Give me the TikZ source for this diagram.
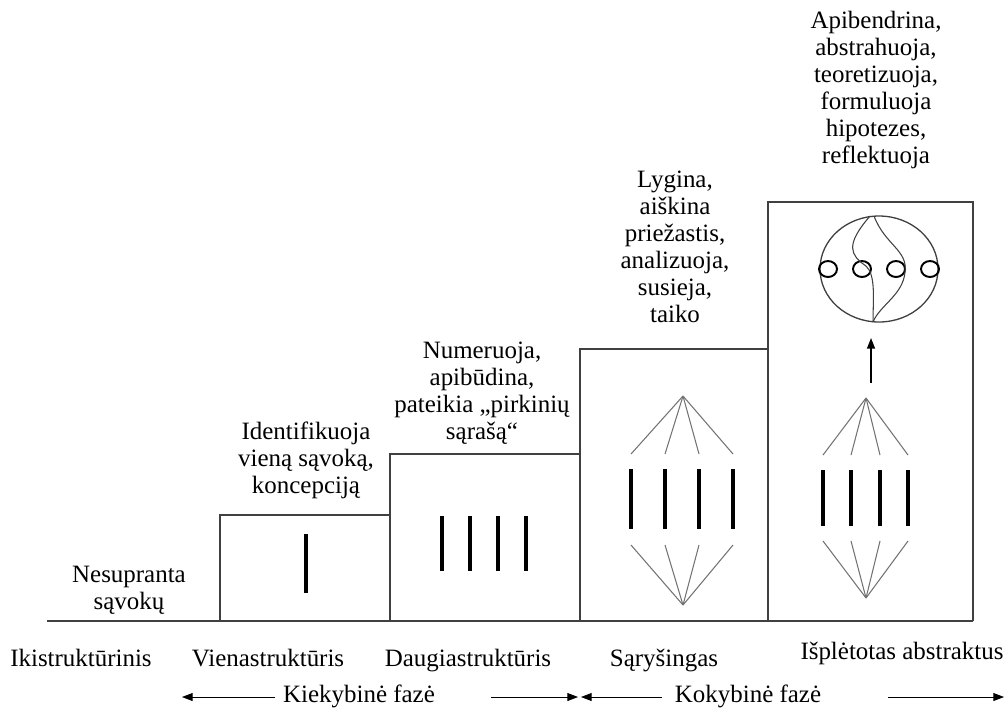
\documentclass[tikz,border=0pt]{standalone}
\usepackage{fontspec}
\setmainfont{Liberation Serif}
\usetikzlibrary{arrows.meta}

\tikzset{
  txt/.style={align=center, font=\fontsize{14.2}{15.4}\selectfont, inner sep=0pt},
  box/.style={draw=black!75, line width=0.75pt},
  ground/.style={draw=black!75, line width=1.2pt},
  bar/.style={line width=2.7pt},
  fan/.style={draw=black!55, line width=0.6pt},
  ring/.style={line width=1.1pt},
}

\begin{document}
\begin{tikzpicture}[x=0.02cm, y=-0.02cm, >={Triangle[length=6pt,width=4.5pt]}]
  \useasboundingbox (0,0) rectangle (1006,708);

  % stairs
  \draw[box] (220,621) |- (390,515);
  \draw[box] (390,621) |- (580,454);
  \draw[box] (580,621) |- (768,349);
  \draw[box] (768,621) |- (973,202) -- (973,621);
  \draw[ground] (47,621) -- (973,621);

  % what the learner does
  \node[txt] (t0) at (129,590) {Nesupranta\\sąvokų};
  \node[txt] (t1) at (306,460) {Identifikuoja\\vieną sąvoką,\\koncepciją};
  \node[txt] (t2) at (482,393) {Numeruoja,\\apibūdina,\\pateikia „pirkinių\\sąrašą“};
  \node[txt] (t3) at (675,247) {Lygina,\\aiškina\\priežastis,\\analizuoja,\\susieja,\\taiko};
  \node[txt] (t4) at (876,90) {Apibendrina,\\abstrahuoja,\\teoretizuoja,\\formuluoja\\hipotezes,\\reflektuoja};

  % level names
  \node[txt, anchor=base] (l0) at (81,666)  {Ikistruktūrinis};
  \node[txt, anchor=base] (l1) at (268,666) {Vienastruktūris};
  \node[txt, anchor=base] (l2) at (468,666) {Daugiastruktūris};
  \node[txt, anchor=base] (l3) at (664,666) {Sąryšingas};
  \node[txt, anchor=base] (l4) at (902,659) {Išplėtotas abstraktus};

  % phases
  \node[txt, anchor=base] (f1) at (359,702) {Kiekybinė fazė};
  \node[txt, anchor=base] (f2) at (748,702) {Kokybinė fazė};
  \coordinate (k1) at (182,697);
  \coordinate (k2) at (275,697);
  \coordinate (k3) at (491,697);
  \coordinate (k4) at (578,697);
  \coordinate (q1) at (581,697);
  \coordinate (q2) at (662,697);
  \coordinate (q3) at (888,697);
  \coordinate (q4) at (1004,697);
  \draw[->] (k2) -- (k1);
  \draw[->] (k3) -- (k4);
  \draw[->] (q2) -- (q1);
  \draw[->] (q3) -- (q4);

  % unistructural and multistructural
  \draw[bar] (306,534) -- (306,593);
  \foreach \x in {442,470,498,526}
    \draw[bar] (\x,516) -- (\x,571);

  % relational
  \coordinate (r1) at (683,396);
  \coordinate (r2) at (683,605);
  \foreach \x in {631,665,699,733} {
    \draw[bar] (\x,469) -- (\x,529);
    \draw[fan] (r1) -- (\x,454);
    \draw[fan] (\x,545) -- (r2);
  }

  % extended abstract
  \coordinate (e1) at (866,398);
  \coordinate (e2) at (866,598);
  \foreach \x in {823,851,880,908} {
    \draw[bar] (\x,470) -- (\x,526);
    \draw[fan] (e1) -- (\x,455);
    \draw[fan] (\x,541) -- (e2);
  }
  \coordinate (u1) at (871,383);
  \coordinate (u2) at (871,338);
  \draw[->, line width=0.8pt] (u1) -- (u2);

  \draw[draw=black!75, line width=0.75pt] (879,269) ellipse [x radius=59, y radius=53];
  \foreach \x in {828,862,896,930}
    \draw[ring] (\x,269) ellipse [x radius=9, y radius=8];
  \draw[draw=black!75, line width=0.6pt] (870,216) .. controls (845,245) and (850,255) .. (866,266)
    .. controls (876,275) and (873,300) .. (873,322);
  \draw[draw=black!75, line width=0.6pt] (874,216) .. controls (885,245) and (908,250) .. (905,272)
    .. controls (903,295) and (880,305) .. (873,322);
\end{tikzpicture}
\end{document}
